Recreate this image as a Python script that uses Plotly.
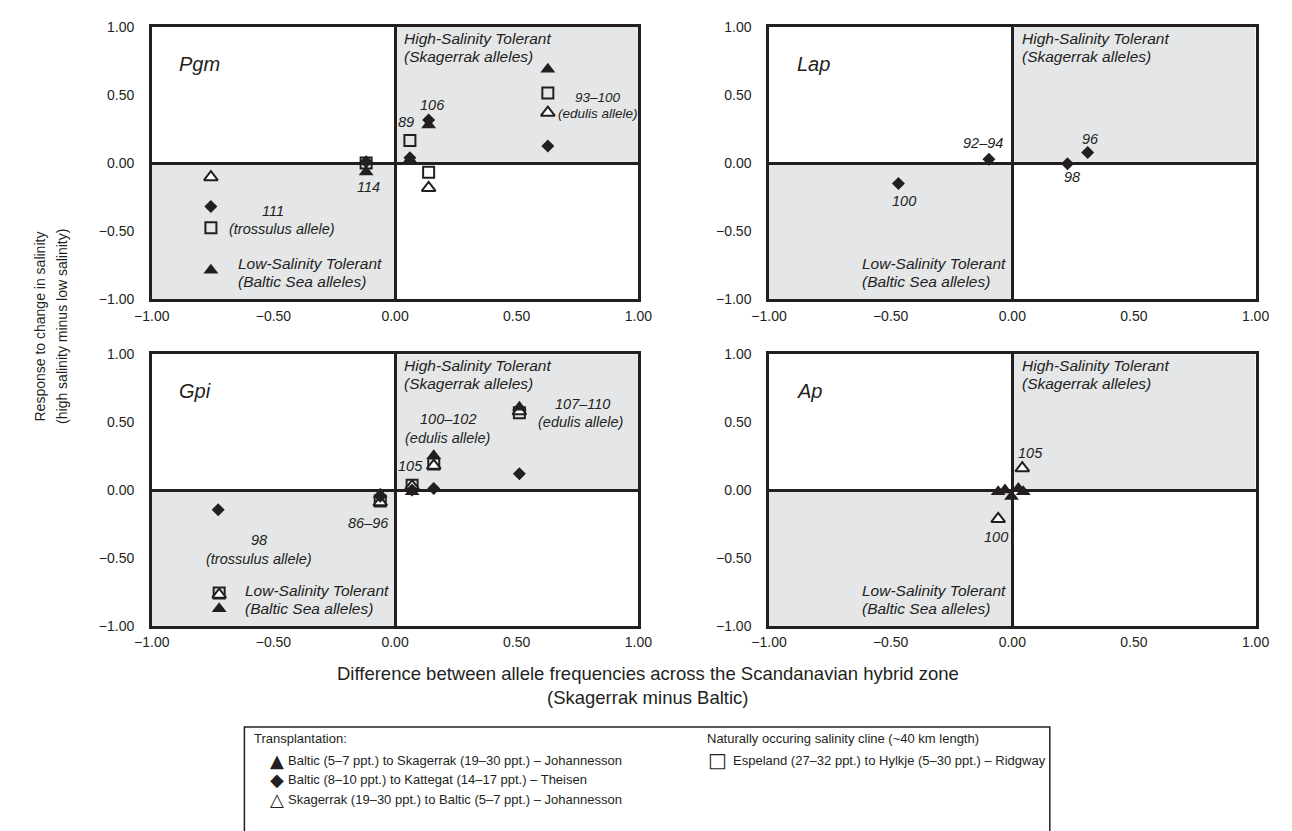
import plotly.graph_objects as go

# ---------------- data ----------------
# Pgm
pgm_filled_tri_x = [-0.757, -0.119, 0.061, 0.138, 0.628]
pgm_filled_tri_y = [-0.787, -0.065, 0.024, 0.280, 0.689]
pgm_diamond_x = [-0.757, -0.119, 0.061, 0.138, 0.628]
pgm_diamond_y = [-0.319, 0.010, 0.040, 0.317, 0.125]
pgm_open_tri_x = [-0.757, 0.138, 0.628]
pgm_open_tri_y = [-0.103, -0.182, 0.370]
pgm_square_x = [-0.757, -0.119, 0.061, 0.138, 0.628]
pgm_square_y = [-0.475, 0.000, 0.166, -0.067, 0.514]

# Lap (Theisen only)
lap_diamond_x = [-0.468, -0.096, 0.227, 0.310]
lap_diamond_y = [-0.149, 0.029, -0.005, 0.077]

# Gpi
gpi_filled_tri_x = [-0.723, -0.061, 0.070, 0.159, 0.511]
gpi_filled_tri_y = [-0.873, -0.030, -0.012, 0.252, 0.610]
gpi_diamond_x = [-0.727, -0.061, 0.070, 0.159, 0.511]
gpi_diamond_y = [-0.144, -0.045, 0.000, 0.012, 0.120]
gpi_open_tri_x = [-0.723, -0.061, 0.070, 0.159, 0.511]
gpi_open_tri_y = [-0.770, -0.090, 0.030, 0.180, 0.580]
gpi_square_x = [-0.723, -0.061, 0.070, 0.159, 0.511]
gpi_square_y = [-0.757, -0.080, 0.036, 0.192, 0.570]

# Ap
ap_filled_tri_x = [-0.058, -0.030, -0.003, 0.025, 0.045]
ap_filled_tri_y = [-0.012, 0.000, -0.048, 0.012, -0.012]
ap_open_tri_x = [-0.058, 0.041]
ap_open_tri_y = [-0.212, 0.161]

tick_vals = [-1.0, -0.5, 0.0, 0.5, 1.0]
tick_text = ["\u22121.00", "\u22120.50", "0.00", "0.50", "1.00"]

gene_names = ["Pgm", "Lap", "Gpi", "Ap"]

# allele labels: (panel, text, x, y, font size)
allele_labels = [
    (1, "111", -0.50, -0.35, 14.5), (1, "(trossulus allele)", -0.466, -0.48, 14.5),
    (1, "114", -0.111, -0.175, 14.5), (1, "89", 0.045, 0.305, 14.5), (1, "106", 0.155, 0.425, 14.5),
    (1, "93\u2013100", 0.835, 0.48, 13.5), (1, "(edulis allele)", 0.834, 0.365, 13.5),
    (2, "92\u201394", -0.12, 0.145, 14.5), (2, "100", -0.447, -0.277, 14.5),
    (2, "98", 0.244, -0.104, 14.5), (2, "96", 0.323, 0.18, 14.5),
    (3, "100\u2013102", 0.216, 0.52, 14.5), (3, "(edulis allele)", 0.216, 0.385, 14.5),
    (3, "107\u2013110", 0.77, 0.632, 14.5), (3, "(edulis allele)", 0.764, 0.498, 14.5),
    (3, "105", 0.065, 0.18, 14.5), (3, "86\u201396", -0.108, -0.24, 14.5),
    (3, "98", -0.561, -0.368, 14.5), (3, "(trossulus allele)", -0.561, -0.505, 14.5),
    (4, "105", 0.073, 0.276, 14.5), (4, "100", -0.069, -0.349, 14.5),
]

legend_left_title = "Transplantation:"
legend_right_title = "Naturally occuring salinity cline (~40 km length)"
legend_items_left = [
    ("\u25B2", "Baltic (5\u20137 ppt.) to Skagerrak (19\u201330 ppt.) \u2013 Johannesson"),
    ("\u25C6", "Baltic (8\u201310 ppt.) to Kattegat (14\u201317 ppt.) \u2013 Theisen"),
    ("\u25B3", "Skagerrak (19\u201330 ppt.) to Baltic (5\u20137 ppt.) \u2013 Johannesson"),
]
legend_items_right = [
    ("\u25A1", "Espeland (27\u201332 ppt.) to Hylkje (5\u201330 ppt.) \u2013 Ridgway"),
]

# ---------------- styling ----------------
OX, OY = 8, 8            # page body margin
FW, FH = 1284, 823       # figure size
INK = "#231f20"
GRAY = "#e5e6e8"
FONT = "Liberation Sans, Arial, Helvetica, sans-serif"

def px(x):
    return (x - OX) / FW

def py(y):
    return 1 - (y - OY) / FH

col_dom = [[px(137), px(636)], [px(770), px(1269)]]
row_dom = [[py(297), py(19)], [py(630), py(353)]]

fig = go.Figure()

filled_tri = dict(symbol="triangle-up", size=13, color=INK, line=dict(width=0))
diamond = dict(symbol="diamond", size=10, color=INK, line=dict(width=0))
open_tri = dict(symbol="triangle-up", size=12, color="white", line=dict(width=2, color=INK))
square = dict(symbol="square", size=11, color="rgba(0,0,0,0)", line=dict(width=2, color=INK))

def add(xs, ys, marker, k):
    fig.add_trace(go.Scatter(x=xs, y=ys, mode="markers", marker=marker,
                             xaxis=f"x{k}", yaxis=f"y{k}", showlegend=False,
                             hoverinfo="skip"))

# draw order: squares, open triangles, diamonds, filled triangles
add(pgm_square_x, pgm_square_y, square, 1)
add(pgm_open_tri_x, pgm_open_tri_y, open_tri, 1)
add(pgm_diamond_x, pgm_diamond_y, diamond, 1)
add(pgm_filled_tri_x, pgm_filled_tri_y, filled_tri, 1)

add(lap_diamond_x, lap_diamond_y, diamond, 2)

add(gpi_square_x, gpi_square_y, square, 3)
add(gpi_open_tri_x, gpi_open_tri_y, open_tri, 3)
add(gpi_diamond_x, gpi_diamond_y, diamond, 3)
add(gpi_filled_tri_x, gpi_filled_tri_y, filled_tri, 3)

add(ap_open_tri_x, ap_open_tri_y, open_tri, 4)
add(ap_filled_tri_x, ap_filled_tri_y, filled_tri, 4)

layout = dict(
    width=FW, height=FH, margin=dict(l=0, r=0, t=0, b=0),
    paper_bgcolor="white", plot_bgcolor="white",
    font=dict(family=FONT, color=INK, size=14),
    showlegend=False,
)

panel_pos = {1: (0, 0), 2: (1, 0), 3: (0, 1), 4: (1, 1)}
shapes = []
annotations = []
for k, (c, r) in panel_pos.items():
    ax = dict(domain=col_dom[c], range=[-1, 1], tickvals=tick_vals, ticktext=tick_text,
              showgrid=False, zeroline=True, zerolinewidth=2.5, zerolinecolor=INK,
              showline=True, linewidth=2.5, linecolor=INK, mirror=True, ticks="",
              tickfont=dict(size=14, family=FONT, color=INK), fixedrange=True)
    xa = dict(ax, anchor=f"y{k}", ticklabelstandoff=2)
    ya = dict(ax, domain=row_dom[r], anchor=f"x{k}", ticklabelstandoff=12)
    layout["xaxis" if k == 1 else f"xaxis{k}"] = xa
    layout["yaxis" if k == 1 else f"yaxis{k}"] = ya
    xr_ref = f"x{k}" if k > 1 else "x"
    yr_ref = f"y{k}" if k > 1 else "y"
    for (x0, x1, y0, y1) in [(0, 1, 0, 1), (-1, 0, -1, 0)]:
        shapes.append(dict(type="rect", xref=xr_ref, yref=yr_ref, x0=x0, x1=x1, y0=y0, y1=y1,
                           fillcolor=GRAY, line=dict(width=0), layer="below"))
    # gene name
    annotations.append(dict(xref=xr_ref, yref=yr_ref, x=-0.895, y=0.73, xanchor="left",
                            yanchor="middle", text=f"<i>{gene_names[k-1]}</i>",
                            showarrow=False, font=dict(size=20, family=FONT, color=INK)))
    # quadrant labels
    annotations.append(dict(xref=xr_ref, yref=yr_ref, x=0.03, y=0.915, xanchor="left",
                            yanchor="middle", text="<i>High-Salinity Tolerant</i>",
                            showarrow=False, font=dict(size=15.5, family=FONT, color=INK)))
    annotations.append(dict(xref=xr_ref, yref=yr_ref, x=0.03, y=0.782, xanchor="left",
                            yanchor="middle", text="<i>(Skagerrak alleles)</i>",
                            showarrow=False, font=dict(size=15.5, family=FONT, color=INK)))
    lowx = -0.655 if k == 1 else -0.624
    annotations.append(dict(xref=xr_ref, yref=yr_ref, x=lowx, y=-0.738, xanchor="left",
                            yanchor="middle", text="<i>Low-Salinity Tolerant</i>",
                            showarrow=False, font=dict(size=15.5, family=FONT, color=INK)))
    annotations.append(dict(xref=xr_ref, yref=yr_ref, x=lowx, y=-0.872, xanchor="left",
                            yanchor="middle", text="<i>(Baltic Sea alleles)</i>",
                            showarrow=False, font=dict(size=15.5, family=FONT, color=INK)))

for (k, t, x, y, fs) in allele_labels:
    xr_ref = f"x{k}" if k > 1 else "x"
    yr_ref = f"y{k}" if k > 1 else "y"
    annotations.append(dict(xref=xr_ref, yref=yr_ref, x=x, y=y, xanchor="center",
                            yanchor="middle", text=f"<i>{t}</i>", showarrow=False,
                            font=dict(size=fs, family=FONT, color=INK)))

# axis titles
annotations.append(dict(xref="paper", yref="paper", x=px(22), y=py(325), text="Response to change in salinity",
                        textangle=-90, showarrow=False, xanchor="center", yanchor="middle",
                        font=dict(size=14, family=FONT, color=INK)))
annotations.append(dict(xref="paper", yref="paper", x=px(45), y=py(325), text="(high salinity minus low salinity)",
                        textangle=-90, showarrow=False, xanchor="center", yanchor="middle",
                        font=dict(size=14, family=FONT, color=INK)))
annotations.append(dict(xref="paper", yref="paper", x=px(646), y=py(679),
                        text="Difference between allele frequencies across the Scandanavian hybrid zone",
                        showarrow=False, xanchor="center", yanchor="middle",
                        font=dict(size=18.5, family=FONT, color=INK)))
annotations.append(dict(xref="paper", yref="paper", x=px(646), y=py(703),
                        text="(Skagerrak minus Baltic)",
                        showarrow=False, xanchor="center", yanchor="middle",
                        font=dict(size=18.5, family=FONT, color=INK)))

# legend box
shapes.append(dict(type="rect", xref="paper", yref="paper", x0=px(232), x1=px(1058),
                   y0=py(845), y1=py(733), line=dict(width=1.5, color=INK), fillcolor="white"))
annotations.append(dict(xref="paper", yref="paper", x=px(240), y=py(745), text=legend_left_title,
                        showarrow=False, xanchor="left", yanchor="middle",
                        font=dict(size=13, family=FONT, color=INK)))
annotations.append(dict(xref="paper", yref="paper", x=px(704), y=py(745), text=legend_right_title,
                        showarrow=False, xanchor="left", yanchor="middle",
                        font=dict(size=13, family=FONT, color=INK)))
for i, (g, t) in enumerate(legend_items_left):
    yy = 767 + 20 * i
    annotations.append(dict(xref="paper", yref="paper", x=px(265), y=py(yy), text=g,
                            showarrow=False, xanchor="center", yanchor="middle",
                            font=dict(size=18, family="DejaVu Sans", color=INK)))
    annotations.append(dict(xref="paper", yref="paper", x=px(275), y=py(yy), text=t,
                            showarrow=False, xanchor="left", yanchor="middle",
                            font=dict(size=13, family=FONT, color=INK)))
for i, (g, t) in enumerate(legend_items_right):
    yy = 767 + 20 * i
    annotations.append(dict(xref="paper", yref="paper", x=px(717), y=py(yy), text=g,
                            showarrow=False, xanchor="center", yanchor="middle",
                            font=dict(size=20, family="DejaVu Sans", color=INK)))
    annotations.append(dict(xref="paper", yref="paper", x=px(731), y=py(yy), text=t,
                            showarrow=False, xanchor="left", yanchor="middle",
                            font=dict(size=13, family=FONT, color=INK)))

layout["shapes"] = shapes
layout["annotations"] = annotations
fig.update_layout(**layout)
fig.write_html("out.html")
